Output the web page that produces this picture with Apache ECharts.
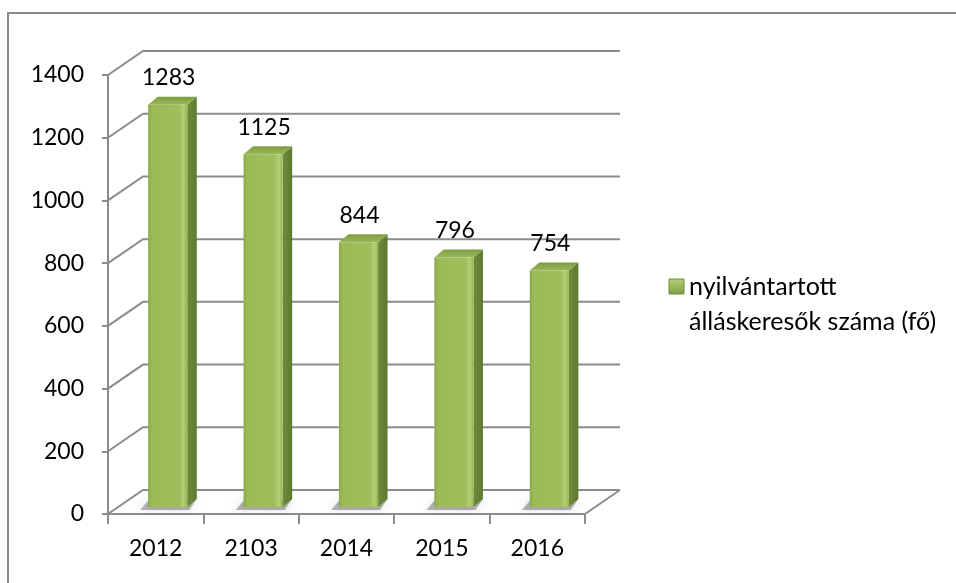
<!DOCTYPE html>
<html>
<head>
<meta charset="utf-8">
<script src="https://cdn.jsdelivr.net/npm/echarts@6/dist/echarts.min.js"></script>
<style>html,body{margin:0;padding:0;background:#fff}#c{width:956px;height:583px}</style>
</head>
<body>
<div id="c"></div>
<script>
// ---- data ----
const categories = ['2012', '2103', '2014', '2015', '2016'];
const values = [1283, 1125, 844, 796, 754];
const yTicks = [0, 200, 400, 600, 800, 1000, 1200, 1400];
const seriesName = 'nyilvántartott álláskeresők száma (fő)';
const legendLines = ['nyilvántartott', 'álláskeresők száma (fő)'];

// ---- style constants ----
const FONT = 'Lato';
const FS = 23;
const GRID_COLOR = '#8c8c8c';
const DX = 35, DY = 24;          // depth of the 3D box (back wall offset)
const BOX = 12, BOY = 7;         // offset of bar front face
const BDX = 9.5, BDY = 8;        // bar depth

const chart = echarts.init(document.getElementById('c'), null, {renderer: 'canvas'});

function gridRender(params, api) {
  const cs = params.coordSys;
  const v = api.value(1);
  const y = api.coord([0, v])[1];
  const L = cs.x, R = cs.x + cs.width;
  const children = [{
    type: 'polyline',
    shape: {points: [[L, y], [L + DX, y - DY], [R + DX, y - DY]]},
    style: {stroke: GRID_COLOR, lineWidth: 2, fill: null}
  }];
  if (v === 0) {
    children.push({
      type: 'polyline',
      shape: {points: [[R, y], [R + DX, y - DY]]},
      style: {stroke: GRID_COLOR, lineWidth: 2, fill: null}
    });
  }
  return {type: 'group', children};
}

function barRender(params, api) {
  const i = api.value(0), v = api.value(1);
  const base = api.coord([i, 0]);
  const top = api.coord([i, v]);
  const band = api.size([1, 0])[0];
  const w = band * 0.41;
  const cx = base[0] + BOX;
  const yb = base[1] - BOY;
  const yt = top[1] - BOY;
  const xl = cx - w / 2, xr = cx + w / 2;
  return {
    type: 'group',
    children: [
      { // floor shadow
        type: 'polygon',
        shape: {points: [[xl - 8, yb + 3], [xr + 2, yb + 3], [xr + BDX, yb - BDY], [xl + BDX - 8, yb - BDY]]},
        style: {fill: 'rgba(0,0,0,0.28)', shadowBlur: 10, shadowColor: 'rgba(0,0,0,0.45)'}
      },
      { // side face
        type: 'polygon',
        shape: {points: [[xr, yt], [xr + BDX, yt - BDY], [xr + BDX, yb - BDY], [xr, yb]]},
        style: {fill: new echarts.graphic.LinearGradient(0, 0, 1, 0, [
          {offset: 0, color: '#6f8d3c'}, {offset: 1, color: '#5e7831'}])}
      },
      { // top face
        type: 'polygon',
        shape: {points: [[xl, yt], [xl + BDX, yt - BDY], [xr + BDX, yt - BDY], [xr, yt]]},
        style: {fill: new echarts.graphic.LinearGradient(0, 0, 0, 1, [
          {offset: 0, color: '#7e9d42'}, {offset: 1, color: '#98b858'}])}
      },
      { // front face
        type: 'rect',
        shape: {x: xl, y: yt, width: w, height: yb - yt},
        style: {fill: new echarts.graphic.LinearGradient(0, 0, 1, 0, [
          {offset: 0, color: '#8aa94c'},
          {offset: 0.1, color: '#9bbb59'},
          {offset: 0.8, color: '#9ebf5b'},
          {offset: 0.9, color: '#b2d172'},
          {offset: 1, color: '#96b555'}])}
      },
      { // value label
        type: 'text',
        style: {
          x: cx + 1, y: yt - 27,
          text: String(v),
          align: 'center', verticalAlign: 'middle',
          fill: '#000', fontSize: FS, fontFamily: FONT
        }
      }
    ]
  };
}

const option = {
  animation: false,
  backgroundColor: '#fff',
  grid: {left: 108, right: 371, top: 75, bottom: 69},
  xAxis: {
    type: 'category',
    data: categories,
    axisLine: {show: true, lineStyle: {color: GRID_COLOR, width: 2}},
    axisTick: {show: true, length: 10, lineStyle: {color: GRID_COLOR, width: 2}},
    axisLabel: {color: '#000', fontSize: FS, fontFamily: FONT, margin: 23},
    splitLine: {show: false}
  },
  yAxis: {
    type: 'value',
    min: 0, max: 1400, interval: 200,
    axisLine: {show: true, lineStyle: {color: GRID_COLOR, width: 2}},
    axisTick: {show: true, length: 6, lineStyle: {color: GRID_COLOR, width: 2}},
    axisLabel: {color: '#000', fontSize: FS, fontFamily: FONT, margin: 24, formatter: v => String(v)},
    splitLine: {show: false}
  },
  series: [
    {
      type: 'custom',
      name: 'grid',
      renderItem: gridRender,
      data: yTicks.map(v => [0, v]),
      z: 1,
      silent: true
    },
    {
      type: 'custom',
      name: seriesName,
      renderItem: barRender,
      data: values.map((v, i) => [i, v]),
      z: 3
    }
  ],
  graphic: [
    {
      type: 'rect',
      shape: {x: 8, y: 13, width: 960, height: 600},
      style: {fill: null, stroke: '#8a8a8a', lineWidth: 2},
      silent: true
    },
    {
      type: 'rect',
      shape: {x: 669, y: 279, width: 15, height: 15},
      style: {fill: new echarts.graphic.LinearGradient(0, 0, 0, 1, [
        {offset: 0, color: '#b5d276'}, {offset: 1, color: '#7f9e44'}]), stroke: '#6f8d3c', lineWidth: 1}
    },
    {
      type: 'text',
      style: {x: 689, y: 287, text: legendLines[0], fontSize: 25, fontFamily: FONT, fill: '#000', verticalAlign: 'middle'}
    },
    {
      type: 'text',
      style: {x: 689, y: 322, text: legendLines[1], fontSize: 25, fontFamily: FONT, fill: '#000', verticalAlign: 'middle'}
    }
  ]
};
chart.setOption(option);
</script>
</body>
</html>
